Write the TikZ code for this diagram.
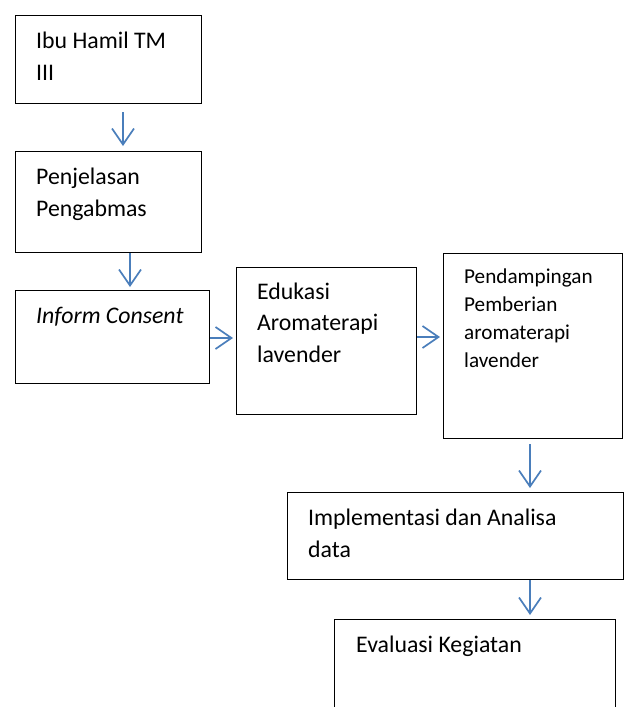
\documentclass[tikz,border=0pt]{standalone}
\usepackage{fontspec}
\setmainfont{Carlito}
\usetikzlibrary{arrows.meta}
\definecolor{arrblue}{RGB}{74,126,187}
\tikzset{
  box/.style={draw=black, line width=1.1pt, rectangle, inner sep=0pt, anchor=north west},
  txt/.style={inner sep=0pt, anchor=base west, align=left, font=\fontsize{23.8}{31.5}\selectfont},
  smalltxt/.style={txt, font=\fontsize{21.2}{28}\selectfont},
  arr/.style={draw=arrblue, line width=1.7pt, -{Straight Barb[length=16pt,width=22pt,line width=1.7pt]}}
}
\begin{document}
\begin{tikzpicture}[x=1pt,y=-1pt]
\useasboundingbox (0,0) rectangle (624,707);
\clip (0,0) rectangle (624,707);
% boxes
\node[box, minimum width=186pt, minimum height=88pt] (b1) at (15,15) {};
\node[box, minimum width=186pt, minimum height=101pt] (b2) at (15,151) {};
\node[box, minimum width=194pt, minimum height=93pt] (b3) at (15,290) {};
\node[box, minimum width=180pt, minimum height=147pt] (b4) at (236,267) {};
\node[box, minimum width=179pt, minimum height=185pt] (b5) at (443,253) {};
\node[box, minimum width=336pt, minimum height=87pt] (b6) at (287,492) {};
\node[box, minimum width=281pt, minimum height=110pt] (b7) at (334,619) {};
% texts (anchored at the baseline of the last line)
\node[txt] (t1) at (36,80) {Ibu Hamil TM\\III};
\node[txt] (t2) at (36,216) {Penjelasan\\Pengabmas};
\node[txt] (t3) at (36,323) {\itshape Inform Consent};
\node[txt] (t4) at (257,362) {Edukasi\\Aromaterapi\\lavender};
\node[smalltxt] (t5) at (464,367) {Pendampingan\\Pemberian\\aromaterapi\\lavender};
\node[txt] (t6) at (308,557) {Implementasi dan Analisa\\data};
\node[txt] (t7) at (356,652) {Evaluasi Kegiatan};
% arrows
\draw[arr] ([xshift=108pt,yshift=-8pt]b1.south west) -- ([xshift=108pt,yshift=5pt]b2.north west);
\draw[arr] ([xshift=115pt]b2.south west) -- ([xshift=115pt,yshift=3pt]b3.north west);
\draw[arr] ([yshift=-48pt]b3.north east) -- ([xshift=-3pt,yshift=-71pt]b4.north west);
\draw[arr] ([yshift=-70pt]b4.north east) -- ([xshift=-3pt,yshift=-84pt]b5.north west);
\draw[arr] ([xshift=87pt,yshift=-5pt]b5.south west) -- ([xshift=243pt,yshift=4pt]b6.north west);
\draw[arr] ([xshift=243pt]b6.south west) -- ([xshift=196pt,yshift=4pt]b7.north west);
\end{tikzpicture}
\end{document}
